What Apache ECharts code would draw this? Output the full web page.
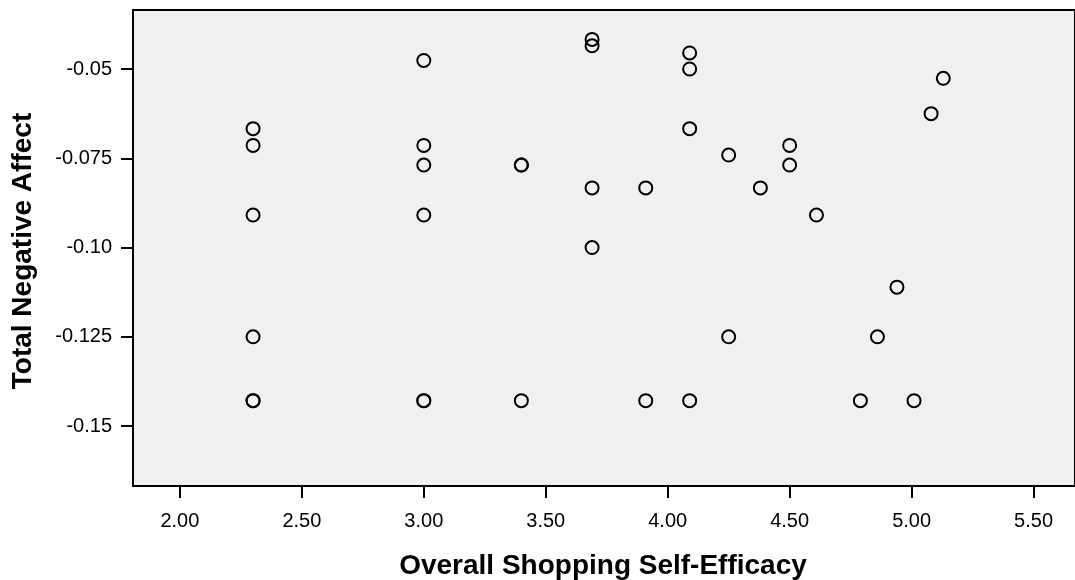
<!DOCTYPE html>
<html>
<head>
<meta charset="utf-8">
<script src="https://cdn.jsdelivr.net/npm/echarts@6/dist/echarts.min.js"></script>
<style>
html,body{margin:0;padding:0;background:#fff;}
#chart{width:1075px;height:580px;}
</style>
</head>
<body>
<div id="chart"></div>
<script>
// Data
const xValues = [
  2.30, 2.30, 2.30, 2.30, 2.30, 2.30,
  3.00, 3.00, 3.00, 3.00, 3.00, 3.00,
  3.40, 3.40, 3.40,
  3.69, 3.69, 3.69, 3.69,
  3.91, 3.91,
  4.09, 4.09, 4.09, 4.09,
  4.25, 4.25,
  4.38,
  4.50, 4.50,
  4.61,
  4.79,
  4.86,
  4.94,
  5.01,
  5.08,
  5.13
];
const yValues = [
  -0.0667, -0.0714, -0.0909, -0.1250, -0.1429, -0.1429,
  -0.0476, -0.0714, -0.0769, -0.0909, -0.1429, -0.1429,
  -0.0769, -0.0769, -0.1429,
  -0.0417, -0.0435, -0.0833, -0.1000,
  -0.0833, -0.1429,
  -0.0455, -0.0500, -0.0667, -0.1429,
  -0.0741, -0.1250,
  -0.0833,
  -0.0714, -0.0769,
  -0.0909,
  -0.1429,
  -0.1250,
  -0.1111,
  -0.1429,
  -0.0625,
  -0.0526
];
const xTickValues = [2.0, 2.5, 3.0, 3.5, 4.0, 4.5, 5.0, 5.5];
const xTickLabels = ['2.00', '2.50', '3.00', '3.50', '4.00', '4.50', '5.00', '5.50'];
const yTickValues = [-0.15, -0.125, -0.10, -0.075, -0.05];
const yTickLabels = ['-0.15', '-0.125', '-0.10', '-0.075', '-0.05'];
const xTitle = 'Overall Shopping Self-Efficacy';
const yTitle = 'Total Negative Affect';

function labelFor(values, labels, v) {
  for (let i = 0; i < values.length; i++) {
    if (Math.abs(values[i] - v) < 1e-9) return labels[i];
  }
  return '';
}

const points = xValues.map((x, i) => [x, yValues[i]]);
const FONT = '"Liberation Sans", Arial, Helvetica, sans-serif';

const chart = echarts.init(document.getElementById('chart'), null, {renderer: 'canvas'});
chart.setOption({
  backgroundColor: '#ffffff',
  animation: false,
  grid: {
    left: 133, right: -2, top: 10, bottom: 94,
    show: true, backgroundColor: '#f0f0f0',
    borderColor: '#000000', borderWidth: 2
  },
  xAxis: {
    type: 'value',
    min: 1.8077, max: 5.670,
    axisLine: {show: true, onZero: false, lineStyle: {color: '#000', width: 2}},
    axisTick: {show: true, length: 12, inside: false, customValues: xTickValues,
      lineStyle: {color: '#000', width: 2}},
    axisLabel: {show: true, margin: 25, customValues: xTickValues,
      color: '#000', fontSize: 20, fontFamily: FONT,
      formatter: v => labelFor(xTickValues, xTickLabels, v)},
    splitLine: {show: false}
  },
  yAxis: {
    type: 'value',
    min: -0.1668, max: -0.03347,
    axisLine: {show: true, onZero: false, lineStyle: {color: '#000', width: 2}},
    axisTick: {show: true, length: 12, inside: false, customValues: yTickValues,
      lineStyle: {color: '#000', width: 2}},
    axisLabel: {show: true, margin: 21, customValues: yTickValues,
      color: '#000', fontSize: 20, fontFamily: FONT,
      formatter: v => labelFor(yTickValues, yTickLabels, v)},
    splitLine: {show: false}
  },
  graphic: [
    {
      type: 'text', z: 10,
      x: 603, y: 566,
      style: {text: xTitle, fill: '#000', fontSize: 28, fontWeight: 'bold', fontFamily: FONT,
        textAlign: 'center', textVerticalAlign: 'middle'}
    },
    {
      type: 'text', z: 10,
      x: 23, y: 251,
      rotation: Math.PI / 2,
      style: {text: yTitle, fill: '#000', fontSize: 28, fontWeight: 'bold', fontFamily: FONT,
        textAlign: 'center', textVerticalAlign: 'middle'}
    }
  ],
  series: [{
    type: 'scatter',
    data: points,
    symbol: 'circle',
    symbolSize: 13,
    itemStyle: {color: 'rgba(0,0,0,0)', borderColor: '#000', borderWidth: 2, opacity: 1},
    emphasis: {disabled: true}
  }]
});
</script>
</body>
</html>
